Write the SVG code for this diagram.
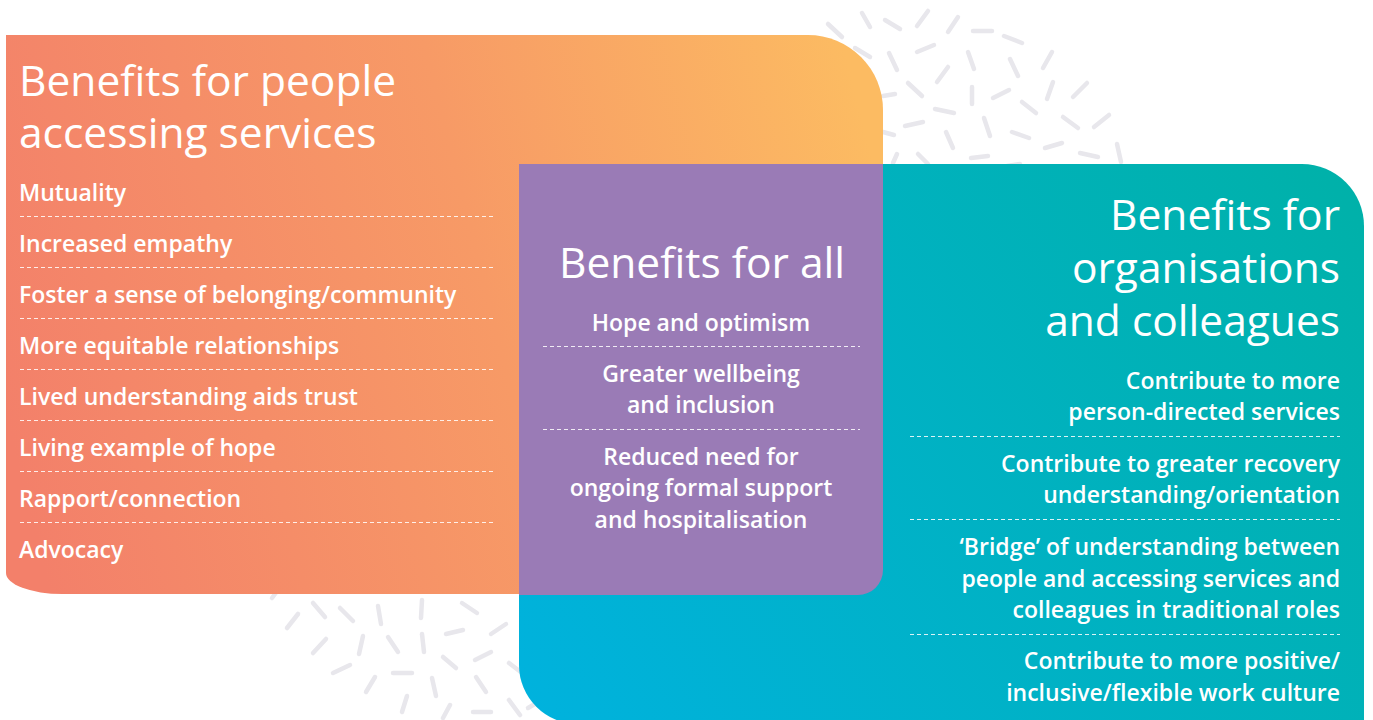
<svg xmlns="http://www.w3.org/2000/svg" width="1373" height="720" viewBox="0 0 1373 720">
  <defs>
    <linearGradient id="gOrange" gradientUnits="userSpaceOnUse" x1="6" y1="420" x2="883" y2="200">
      <stop offset="0" stop-color="#f3806a"/>
      <stop offset="0.55" stop-color="#f79a66"/>
      <stop offset="1" stop-color="#fcbb62"/>
    </linearGradient>
    <linearGradient id="gTeal" gradientUnits="userSpaceOnUse" x1="519" y1="720" x2="1364" y2="164">
      <stop offset="0" stop-color="#00b2de"/>
      <stop offset="1" stop-color="#00b1a8"/>
    </linearGradient>
    <style>
      .dash { stroke: #e8e7ec; stroke-width: 4.5; stroke-linecap: round; }
      .title { font-family: "Open Sans", "Noto Sans", sans-serif; font-size: 42.5px; font-weight: 500; fill: #ffffff; }
      .item { font-family: "Open Sans", "Noto Sans", sans-serif; font-size: 23px; font-weight: 600; fill: #ffffff; }
      .rule { stroke: #ffffff; stroke-opacity: 0.85; stroke-width: 1.2; stroke-dasharray: 4 3; }
      .mid { text-anchor: middle; }
      .end { text-anchor: end; }
    </style>
  </defs>

  <!-- scattered confetti strokes behind the panels -->
  <g id="confetti" class="dash">
    <line x1="828" y1="24" x2="842" y2="37"/>
    <line x1="862" y1="13" x2="870" y2="27"/>
    <line x1="885" y1="20" x2="900" y2="29"/>
    <line x1="917" y1="26" x2="928" y2="11"/>
    <line x1="948" y1="32" x2="958" y2="17"/>
    <line x1="973" y1="31" x2="992" y2="31"/>
    <line x1="1004" y1="36" x2="1022" y2="43"/>
    <line x1="855" y1="48" x2="870" y2="57"/>
    <line x1="889" y1="53" x2="897" y2="70"/>
    <line x1="917" y1="52" x2="934" y2="45"/>
    <line x1="968" y1="52" x2="974" y2="69"/>
    <line x1="1010" y1="59" x2="1018" y2="76"/>
    <line x1="1043" y1="68" x2="1052" y2="52"/>
    <line x1="937" y1="82" x2="948" y2="67"/>
    <line x1="883" y1="96" x2="895" y2="94"/>
    <line x1="908" y1="83" x2="922" y2="96"/>
    <line x1="972" y1="87" x2="972" y2="104"/>
    <line x1="993" y1="98" x2="1009" y2="90"/>
    <line x1="1047" y1="99" x2="1053" y2="82"/>
    <line x1="1073" y1="97" x2="1087" y2="83"/>
    <line x1="935" y1="109" x2="954" y2="113"/>
    <line x1="1022" y1="102" x2="1036" y2="113"/>
    <line x1="1063" y1="117" x2="1078" y2="128"/>
    <line x1="1094" y1="127" x2="1109" y2="115"/>
    <line x1="905" y1="126" x2="923" y2="122"/>
    <line x1="883" y1="132" x2="894" y2="135"/>
    <line x1="984" y1="118" x2="990" y2="136"/>
    <line x1="946" y1="132" x2="953" y2="148"/>
    <line x1="1012" y1="132" x2="1029" y2="138"/>
    <line x1="1045" y1="148" x2="1062" y2="143"/>
    <line x1="1080" y1="153" x2="1098" y2="157"/>
    <line x1="1117" y1="144" x2="1121" y2="162"/>
    <line x1="893" y1="163" x2="897" y2="154"/>
    <line x1="918" y1="154" x2="928" y2="164"/>
    <line x1="971" y1="158" x2="988" y2="156"/>
    <line x1="1007" y1="166" x2="1020" y2="164"/>

    <line x1="272" y1="598" x2="278" y2="590"/>
    <line x1="313" y1="603" x2="325" y2="617"/>
    <line x1="340" y1="608" x2="353" y2="621"/>
    <line x1="378" y1="606" x2="381" y2="624"/>
    <line x1="422" y1="600" x2="421" y2="618"/>
    <line x1="462" y1="603" x2="477" y2="613"/>
    <line x1="287" y1="628" x2="298" y2="614"/>
    <line x1="313" y1="653" x2="326" y2="639"/>
    <line x1="359" y1="654" x2="363" y2="636"/>
    <line x1="388" y1="637" x2="398" y2="652"/>
    <line x1="422" y1="634" x2="424" y2="652"/>
    <line x1="446" y1="634" x2="463" y2="630"/>
    <line x1="491" y1="634" x2="506" y2="624"/>
    <line x1="333" y1="673" x2="350" y2="665"/>
    <line x1="443" y1="657" x2="456" y2="668"/>
    <line x1="475" y1="660" x2="491" y2="652"/>
    <line x1="509" y1="663" x2="522" y2="673"/>
    <line x1="393" y1="673" x2="412" y2="673"/>
    <line x1="366" y1="692" x2="375" y2="677"/>
    <line x1="432" y1="678" x2="436" y2="696"/>
    <line x1="476" y1="677" x2="486" y2="692"/>
    <line x1="402" y1="712" x2="407" y2="696"/>
    <line x1="443" y1="718" x2="450" y2="705"/>
    <line x1="473" y1="712" x2="491" y2="712"/>
    <line x1="509" y1="700" x2="520" y2="715"/>
    <line x1="528" y1="708" x2="540" y2="701"/>
  </g>

  <!-- people accessing services -->
  <g id="people">
    <path d="M6,35 H808 A75,75 0 0 1 883,110 V594 H62 A56,21 0 0 1 6,573 Z" fill="url(#gOrange)"/>
    <text class="title" x="19" y="96">Benefits for people</text>
    <text class="title" x="19" y="148">accessing services</text>
    <text class="item" x="19" y="201">Mutuality</text>
    <text class="item" x="19" y="252">Increased empathy</text>
    <text class="item" x="19" y="303">Foster a sense of belonging/community</text>
    <text class="item" x="19" y="354">More equitable relationships</text>
    <text class="item" x="19" y="405">Lived understanding aids trust</text>
    <text class="item" x="19" y="456">Living example of hope</text>
    <text class="item" x="19" y="507">Rapport/connection</text>
    <text class="item" x="19" y="558">Advocacy</text>
    <g class="rule">
      <line x1="20" y1="216.5" x2="494" y2="216.5"/>
      <line x1="20" y1="267.5" x2="494" y2="267.5"/>
      <line x1="20" y1="318.5" x2="494" y2="318.5"/>
      <line x1="20" y1="369.5" x2="494" y2="369.5"/>
      <line x1="20" y1="420.5" x2="494" y2="420.5"/>
      <line x1="20" y1="471.5" x2="494" y2="471.5"/>
      <line x1="20" y1="522.5" x2="494" y2="522.5"/>
    </g>
  </g>

  <!-- organisations and colleagues -->
  <g id="organisations">
    <path d="M519,164 H1302 A62,62 0 0 1 1364,226 V724 H578 A59,59 0 0 1 519,665 Z" fill="url(#gTeal)"/>
    <text class="title end" x="1340" y="230">Benefits for</text>
    <text class="title end" x="1340" y="283">organisations</text>
    <text class="title end" x="1340" y="336">and colleagues</text>
    <text class="item end" x="1340" y="389">Contribute to more</text>
    <text class="item end" x="1340" y="420">person-directed services</text>
    <text class="item end" x="1340" y="472">Contribute to greater recovery</text>
    <text class="item end" x="1340" y="503">understanding/orientation</text>
    <text class="item end" x="1340" y="555">‘Bridge’ of understanding between</text>
    <text class="item end" x="1340" y="587">people and accessing services and</text>
    <text class="item end" x="1340" y="618">colleagues in traditional roles</text>
    <text class="item end" x="1340" y="669">Contribute to more positive/</text>
    <text class="item end" x="1340" y="701">inclusive/flexible work culture</text>
    <g class="rule">
      <line x1="910" y1="436.5" x2="1340" y2="436.5"/>
      <line x1="910" y1="519.5" x2="1340" y2="519.5"/>
      <line x1="910" y1="634.5" x2="1340" y2="634.5"/>
    </g>
  </g>

  <!-- shared benefits -->
  <g id="all">
    <path d="M519,164 H883 V570 A25,25 0 0 1 858,595 H519 Z" fill="#9a7bb6"/>
    <text class="title mid" x="702" y="278">Benefits for all</text>
    <text class="item mid" x="701" y="331">Hope and optimism</text>
    <text class="item mid" x="701" y="382">Greater wellbeing</text>
    <text class="item mid" x="701" y="413">and inclusion</text>
    <text class="item mid" x="701" y="465">Reduced need for</text>
    <text class="item mid" x="701" y="496">ongoing formal support</text>
    <text class="item mid" x="701" y="528">and hospitalisation</text>
    <g class="rule">
      <line x1="543" y1="346.5" x2="860" y2="346.5"/>
      <line x1="543" y1="429.5" x2="860" y2="429.5"/>
    </g>
  </g>
</svg>
